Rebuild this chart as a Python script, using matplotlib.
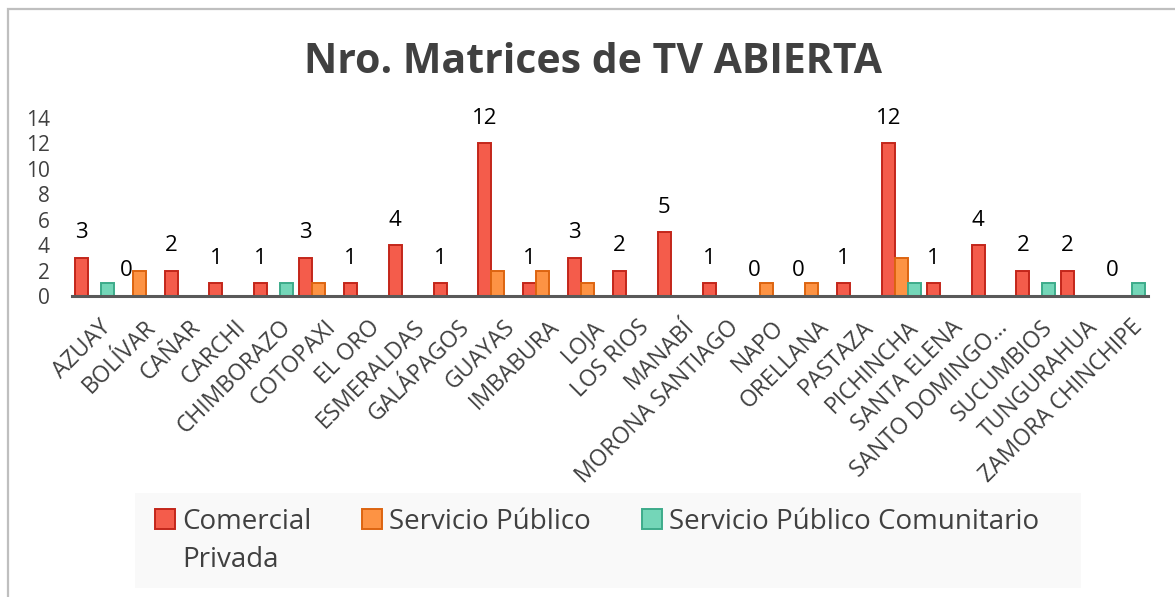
import matplotlib
matplotlib.use("Agg")
import matplotlib.pyplot as plt
from matplotlib.patches import Rectangle
from matplotlib.transforms import ScaledTranslation
import numpy as np

plt.rcParams["font.family"] = ["Open Sans", "DejaVu Sans"]

provincias = ["AZUAY", "BOLÍVAR", "CAÑAR", "CARCHI", "CHIMBORAZO", "COTOPAXI",
              "EL ORO", "ESMERALDAS", "GALÁPAGOS", "GUAYAS", "IMBABURA", "LOJA",
              "LOS RIOS", "MANABÍ", "MORONA SANTIAGO", "NAPO", "ORELLANA",
              "PASTAZA", "PICHINCHA", "SANTA ELENA", "SANTO DOMINGO…",
              "SUCUMBIOS", "TUNGURAHUA", "ZAMORA CHINCHIPE"]
comercial_privada = [3, 0, 2, 1, 1, 3, 1, 4, 1, 12, 1, 3, 2, 5, 1, 0, 0, 1, 12, 1, 4, 2, 2, 0]
servicio_publico = [0, 2, 0, 0, 0, 1, 0, 0, 0, 2, 2, 1, 0, 0, 0, 1, 1, 0, 3, 0, 0, 0, 0, 0]
servicio_comunitario = [1, 0, 0, 0, 1, 0, 0, 0, 0, 0, 0, 0, 0, 0, 0, 0, 0, 0, 1, 0, 0, 1, 0, 1]

# la primera etiqueta va en dos lineas ("Comercial" / "Privada")
series = [
    ("Comercial", comercial_privada, "#f45c4b", "#c3261a"),
    ("Servicio Público", servicio_publico, "#fd9344", "#dd6410"),
    ("Servicio Público Comunitario", servicio_comunitario, "#74d6b8", "#3dab8a"),
]
segunda_linea = "Privada"

W, H = 1175, 597
fig = plt.figure(figsize=(W / 100, H / 100), dpi=100)

# marco exterior del grafico
fig.patches.append(Rectangle((8 / W, -0.1), 1.2, 1 - 9 / H + 0.1, transform=fig.transFigure,
                             fill=False, edgecolor="#bfbfbf", linewidth=1.6))

ax = fig.add_axes([72 / W, 1 - 296 / H, (1148 - 72) / W, (296 - 118) / H])

x = np.arange(len(provincias))
bw = 0.29
for i, (nombre, vals, fc, ec) in enumerate(series):
    ax.bar(x + (i - 1) * bw, vals, width=bw, color=fc, edgecolor=ec,
           linewidth=1.4, label=nombre, zorder=2)

for xi, v in zip(x, comercial_privada):
    ax.annotate(str(v), (xi - bw, v), xytext=(0, 25), textcoords="offset pixels",
                ha="center", va="center", fontsize=16, color="black")

ax.set_xlim(-0.5, len(provincias) - 0.5)
ax.set_ylim(0, 14)
ax.set_yticks(range(0, 15, 2))
ax.set_xticks(x)
ax.tick_params(axis="y", length=0, pad=16, labelsize=15, labelcolor="#404040")
ax.tick_params(axis="x", length=0, pad=14)
ax.set_xticklabels(provincias, rotation=45, ha="right", va="top",
                   rotation_mode="anchor", fontsize=16.5, color="#404040")
desplaza = ScaledTranslation(5 / 100, 0, fig.dpi_scale_trans)
for lab in ax.get_xticklabels():
    lab.set_transform(lab.get_transform() + desplaza)
for s in ["top", "right", "left"]:
    ax.spines[s].set_visible(False)
ax.spines["bottom"].set_color("#595959")
ax.spines["bottom"].set_linewidth(2.2)
ax.spines["bottom"].set_zorder(3)

fig.text(593 / W, 1 - 73 / H, "Nro. Matrices de TV ABIERTA", ha="center",
         va="baseline", fontsize=29.5, fontweight="bold", color="#404040")

# fondo de la leyenda
fig.patches.append(Rectangle((135 / W, 1 - 588 / H), (1081 - 135) / W, (588 - 493) / H,
                             transform=fig.transFigure, facecolor="#f9f9f9",
                             edgecolor="none", zorder=0))
leg = fig.legend(loc="upper left", bbox_to_anchor=(155 / W, 1 - 508 / H), ncol=3,
                 frameon=False, fontsize=20, borderpad=0, borderaxespad=0,
                 handlelength=0.72, handleheight=0.72, handletextpad=0.25,
                 columnspacing=1.84, labelcolor="#404040")

fig.canvas.draw()
t0 = leg.get_texts()[0]
bb = t0.get_window_extent()
_, _, desc = fig.canvas.get_renderer().get_text_width_height_descent(
    t0.get_text(), t0.get_fontproperties(), ismath=False)
base = bb.y0 + desc
fig.text(bb.x0 / W, (base - 31) / H, segunda_linea, ha="left", va="baseline",
         fontsize=20, color="#404040")

fig.savefig("out.png", dpi=100)
